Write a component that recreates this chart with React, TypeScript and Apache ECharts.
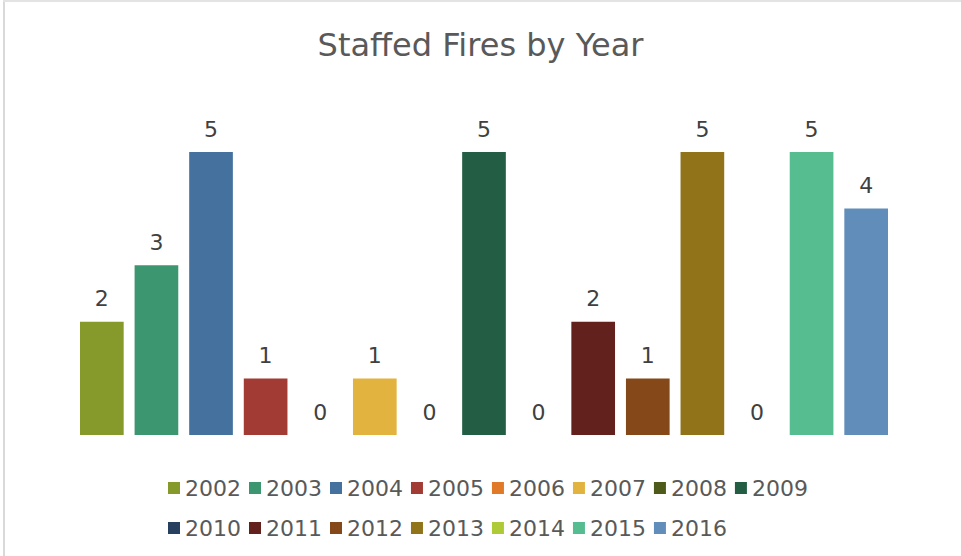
import React, { useEffect, useRef } from "react";
import * as echarts from "echarts";

const years = ["2002","2003","2004","2005","2006","2007","2008","2009","2010","2011","2012","2013","2014","2015","2016"];
const fires = [2, 3, 5, 1, 0, 1, 0, 5, 0, 2, 1, 5, 0, 5, 4];
const colors = ["#86992B","#3C9670","#44719E","#A23B33","#E07A28","#E3B33F","#4E5A1A","#235E44","#27405F","#63211E","#854818","#917419","#AECB37","#55BD8F","#618DBA"];
const category = ["Staffed Fires"];

export default function App() {
  const ref = useRef<HTMLDivElement>(null);
  useEffect(() => {
    if (!ref.current) return;
    const chart = echarts.init(ref.current, undefined, { renderer: "svg" });
    const font = "DejaVu Sans";
    chart.setOption({
      animation: false,
      backgroundColor: "#ffffff",
      color: colors,
      title: {
        text: "Staffed Fires by Year",
        left: "center",
        top: 24,
        textStyle: { fontFamily: font, fontSize: 32, fontWeight: "normal", color: "#595959" },
      },
      graphic: [
        { type: "rect", shape: { x: 3, y: 0, width: 2, height: 556 }, style: { fill: "#d9d9d9" }, silent: true },
        { type: "rect", shape: { x: 3, y: 0, width: 958, height: 2 }, style: { fill: "#e3e3e3" }, silent: true },
      ],
      legend: {
        left: 163,
        top: 467,
        width: 660,
        itemWidth: 12,
        itemHeight: 12,
        itemGap: 8,
        icon: "rect",
        textStyle: { fontFamily: font, fontSize: 22, color: "#595959", lineHeight: 32 },
        data: years,
      },
      grid: { left: 80, right: 73, top: 152, bottom: 121, containLabel: false },
      xAxis: {
        type: "category",
        data: category,
        axisLine: { show: false },
        axisTick: { show: false },
        axisLabel: { show: false },
      },
      yAxis: {
        type: "value",
        min: 0,
        max: 5,
        show: false,
        splitLine: { show: false },
      },
      series: years.map((y, i) => ({
        name: y,
        type: "bar",
        data: [fires[i]],
        barGap: "25%",
        barCategoryGap: "0%",
        itemStyle: { color: colors[i] },
        label: {
          show: true,
          position: "top",
          distance: 12,
          fontFamily: font,
          fontSize: 22,
          color: "#404040",
        },
      })),
    });
    return () => chart.dispose();
  }, []);
  return <div ref={ref} style={{ position: "fixed", left: 0, top: 0, width: 961, height: 556 }} />;
}
